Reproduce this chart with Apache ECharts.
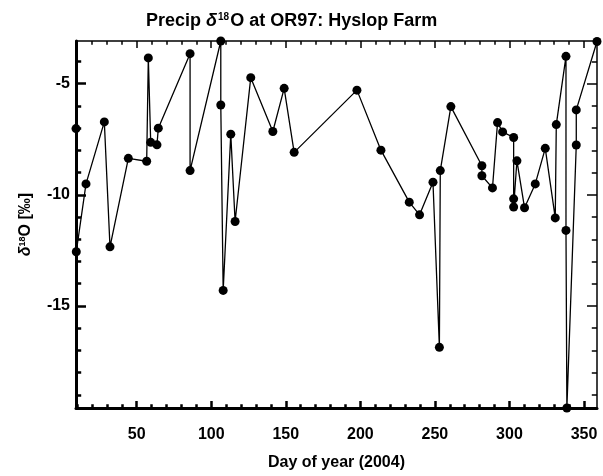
<!DOCTYPE html>
<html>
<head>
<meta charset="utf-8">
<script src="https://cdn.jsdelivr.net/npm/echarts@6/dist/echarts.min.js"></script>
<style>
html,body{margin:0;padding:0;background:#fff;}
#c{width:603px;height:476px;}
</style>
</head>
<body>
<div id="c"></div>
<script>
// Day of year (2004)
const days = [9.3, 9.5, 16.0, 28.3, 32.1, 44.4, 56.7, 57.8, 59.4, 63.6, 64.5, 85.8, 85.8, 106.4, 106.4, 108.0, 113.1, 116.0, 126.5, 141.3, 148.9, 155.6, 197.7, 213.8, 232.8, 239.7, 248.7, 253.0, 253.6, 260.7, 281.5, 281.5, 288.6, 292.0, 295.4, 302.8, 302.8, 302.8, 305.0, 310.1, 317.3, 324.0, 330.7, 331.4, 337.9, 337.9, 338.5, 344.8, 344.8, 358.7];
// Precip d18O (permil)
const d18O = [-7.02, -12.56, -9.51, -6.72, -12.34, -8.36, -8.49, -3.84, -7.64, -7.75, -7.0, -3.65, -8.91, -3.08, -5.96, -14.3, -7.27, -11.2, -4.73, -7.15, -5.21, -8.09, -5.29, -7.99, -10.33, -10.9, -9.43, -16.86, -8.91, -6.03, -8.69, -9.14, -9.69, -6.75, -7.17, -7.42, -10.18, -10.55, -8.47, -10.58, -9.51, -7.91, -11.04, -6.84, -3.77, -11.6, -19.59, -7.76, -6.18, -3.1];

const xMajorTicks = [50, 100, 150, 200, 250, 300, 350];
const xMinorTicks = [10,20,30,40,60,70,80,90,110,120,130,140,160,170,180,190,210,220,230,240,260,270,280,290,310,320,330,340];
const yMajorTicks = [-15, -10, -5];
const yMinorTicks = [-19,-18,-17,-16,-14,-13,-12,-11,-9,-8,-7,-6,-4];

const xMin = Math.min(...days), xMax = Math.max(...days);
const yMin = Math.min(...d18O), yMax = Math.max(...d18O);

const FONT = '"Liberation Sans", Arial, Helvetica, sans-serif';

function xAx(pos, ticks, len, lineW, showLine, labels, extra) {
  return Object.assign({
    type: 'value', position: pos, min: xMin, max: xMax, gridIndex: 0,
    axisLine: { show: showLine, onZero: false, lineStyle: { color: '#000', width: lineW } },
    axisTick: { show: true, inside: true, length: len, customValues: ticks, lineStyle: { color: '#000', width: lineW > 2 ? 2.5 : 1.5 } },
    axisLabel: labels ? { show: true, customValues: ticks, color: '#000', fontFamily: FONT, fontSize: 16, fontWeight: 'bold', margin: 19 } : { show: false },
    splitLine: { show: false }
  }, extra || {});
}
function yAx(pos, ticks, len, lineW, showLine, labels, extra) {
  return Object.assign({
    type: 'value', position: pos, min: yMin, max: yMax, gridIndex: 0,
    axisLine: { show: showLine, onZero: false, lineStyle: { color: '#000', width: lineW } },
    axisTick: { show: true, inside: true, length: len, customValues: ticks, lineStyle: { color: '#000', width: lineW > 2 ? 2.5 : 1.5 } },
    axisLabel: labels ? { show: true, customValues: ticks, color: '#000', fontFamily: FONT, fontSize: 16, fontWeight: 'bold', margin: 6 } : { show: false },
    splitLine: { show: false }
  }, extra || {});
}

const chart = echarts.init(document.getElementById('c'), null, { renderer: 'canvas' });
chart.setOption({
  animation: false,
  backgroundColor: '#fff',
  title: {
    text: 'Precip {d|δ}{s|18}O at OR97: Hyslop Farm',
    left: 141, top: 7,
    textStyle: {
      color: '#000', fontFamily: FONT, fontSize: 18, fontWeight: 'bold',
      rich: {
        d: { fontFamily: FONT, fontSize: 18, fontStyle: 'italic', fontWeight: 'bold', color: '#000' },
        s: { fontFamily: FONT, fontSize: 10, fontWeight: 'bold', verticalAlign: 'top', color: '#000', padding: [0, 1, 0, 1] }
      }
    }
  },
  grid: { left: 76, right: 6, top: 41, bottom: 66, containLabel: false },
  xAxis: [
    xAx('bottom', xMajorTicks, 7, 3, true, true, {
      name: 'Day of year (2004)', nameLocation: 'middle', nameGap: 47,
      nameTextStyle: { color: '#000', fontFamily: FONT, fontSize: 16, fontWeight: 'bold' }
    }),
    xAx('bottom', xMinorTicks, 3.7, 3, false, false),
    xAx('top', xMajorTicks, 7, 1.5, true, false),
    xAx('top', xMinorTicks, 3.7, 1.5, false, false)
  ],
  yAxis: [
    yAx('left', yMajorTicks, 10, 3, true, true, {
      name: '{d|δ}{s|18}O [‰]', nameLocation: 'middle', nameRotate: 90, nameGap: 42,
      nameTextStyle: {
        color: '#000', fontFamily: FONT, fontSize: 16, fontWeight: 'bold',
        rich: {
          d: { fontFamily: FONT, fontSize: 16, fontStyle: 'italic', fontWeight: 'bold', color: '#000' },
          s: { fontFamily: FONT, fontSize: 9, fontWeight: 'bold', verticalAlign: 'top', color: '#000' }
        }
      }
    }),
    yAx('left', yMinorTicks, 5.2, 3, false, false),
    yAx('right', yMajorTicks, 10, 1.5, true, false),
    yAx('right', yMinorTicks, 5.2, 1.5, false, false)
  ],
  series: [{
    type: 'line',
    xAxisIndex: 0, yAxisIndex: 0,
    data: days.map((d, i) => [d, d18O[i]]),
    symbol: 'circle', symbolSize: 9, showAllSymbol: true,
    itemStyle: { color: '#000' },
    lineStyle: { color: '#000', width: 1.3 },
    clip: true
  }]
});
</script>
</body>
</html>
